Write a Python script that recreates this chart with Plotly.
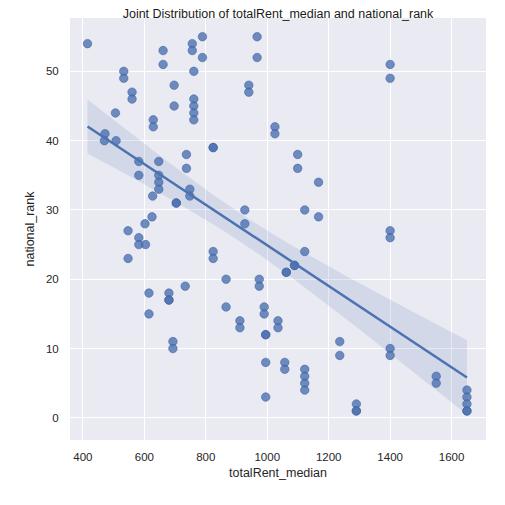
import numpy as np
import plotly.graph_objects as go

# Werte (totalRent_median, national_rank)
total_rent = [415, 472, 470, 508, 506, 533, 533, 560, 560, 547, 547,
              582, 582, 582, 582, 604, 602, 615, 615, 629, 629, 627, 625,
              647, 647, 647, 647, 661, 661, 680, 680, 680, 693, 693,
              697, 697, 704, 704, 733, 737, 737, 748, 748, 756, 756,
              761, 761, 761, 761, 761, 789, 789, 824, 824, 824, 824,
              866, 866, 911, 911, 927, 927, 940, 940, 967, 967, 974, 974,
              990, 990, 995, 995, 995, 995, 1025, 1025, 1035, 1035,
              1057, 1057, 1062, 1062, 1089, 1089, 1099, 1099,
              1122, 1122, 1122, 1122, 1122, 1122, 1167, 1167, 1236, 1236,
              1290, 1290, 1290, 1400, 1400, 1400, 1400, 1400, 1400, 1550, 1550,
              1650, 1650, 1650, 1650, 1650]
national_rank = [54, 41, 40, 40, 44, 50, 49, 47, 46, 27, 23,
                 37, 35, 26, 25, 25, 28, 18, 15, 43, 42, 32, 29,
                 37, 35, 34, 33, 53, 51, 18, 17, 17, 11, 10,
                 48, 45, 31, 31, 19, 38, 36, 33, 32, 54, 53,
                 50, 46, 45, 44, 43, 55, 52, 39, 39, 24, 23,
                 20, 16, 14, 13, 30, 28, 48, 47, 55, 52, 20, 19,
                 16, 15, 12, 12, 8, 3, 42, 41, 14, 13,
                 8, 7, 21, 21, 22, 22, 38, 36,
                 30, 24, 7, 6, 5, 4, 34, 29, 11, 9,
                 2, 1, 1, 51, 49, 27, 26, 10, 9, 6, 5,
                 4, 3, 2, 1, 1]

x_ticks = [400, 600, 800, 1000, 1200, 1400, 1600]
y_ticks = [0, 10, 20, 30, 40, 50]

BLUE = '#4C72B0'

# Regression wie bei seaborn (OLS mit Konfidenzband)
x = np.array(total_rent, dtype=float)
y = np.array(national_rank, dtype=float)
n = len(x)
slope, intercept = np.polyfit(x, y, 1)
grid = np.linspace(x.min(), x.max(), 100)
fit = intercept + slope * grid
resid = y - (intercept + slope * x)
s_err = np.sqrt(np.sum(resid ** 2) / (n - 2))
sxx = np.sum((x - x.mean()) ** 2)
ci = 1.6 * s_err * np.sqrt(1.0 / n + (grid - x.mean()) ** 2 / sxx)

fig = go.Figure()

# Konfidenzband
fig.add_trace(go.Scatter(x=np.concatenate([grid, grid[::-1]]),
                         y=np.concatenate([fit + ci, (fit - ci)[::-1]]),
                         fill='toself', fillcolor='rgba(76,114,176,0.15)',
                         line=dict(width=0), hoverinfo='skip', showlegend=False))

# Punkte
fig.add_trace(go.Scatter(x=total_rent, y=national_rank, mode='markers',
                         marker=dict(color='rgba(76,114,176,0.8)', size=8.5,
                                     line=dict(width=0.6, color='rgba(60,95,160,0.9)')),
                         showlegend=False))

# Regressionsgerade
fig.add_trace(go.Scatter(x=grid, y=fit, mode='lines',
                         line=dict(color=BLUE, width=2.5), showlegend=False))

# Seite hat 8px Rand -> Ränder entsprechend verschoben
fig.update_layout(
    width=505, height=505,
    margin=dict(l=62, r=27, t=10, b=73),
    paper_bgcolor='white', plot_bgcolor='#EAEAF2',
    font=dict(family='Liberation Sans, Arial, sans-serif', color='#262626', size=11),
    title=dict(text='Joint Distribution of totalRent_median and national_rank',
               x=0.5, xref='paper', xanchor='center',
               y=0.998, yref='container', yanchor='top', pad=dict(t=0),
               font=dict(size=12.5, color='#1a1a1a')),
)
fig.update_xaxes(range=[358, 1712], tickvals=x_ticks, showgrid=True,
                 gridcolor='white', gridwidth=1.2, zeroline=False,
                 ticks='outside', ticklen=6, tickcolor='rgba(0,0,0,0)',
                 tickfont=dict(size=11.5),
                 title=dict(text='totalRent_median', font=dict(size=12.5), standoff=6))
fig.update_yaxes(range=[-3.2, 57.7], tickvals=y_ticks, showgrid=True,
                 gridcolor='white', gridwidth=1.2, zeroline=False,
                 ticks='outside', ticklen=8, tickcolor='rgba(0,0,0,0)',
                 tickfont=dict(size=11.5),
                 title=dict(text='national_rank', font=dict(size=12.5), standoff=8))

fig.write_html("out.html")
